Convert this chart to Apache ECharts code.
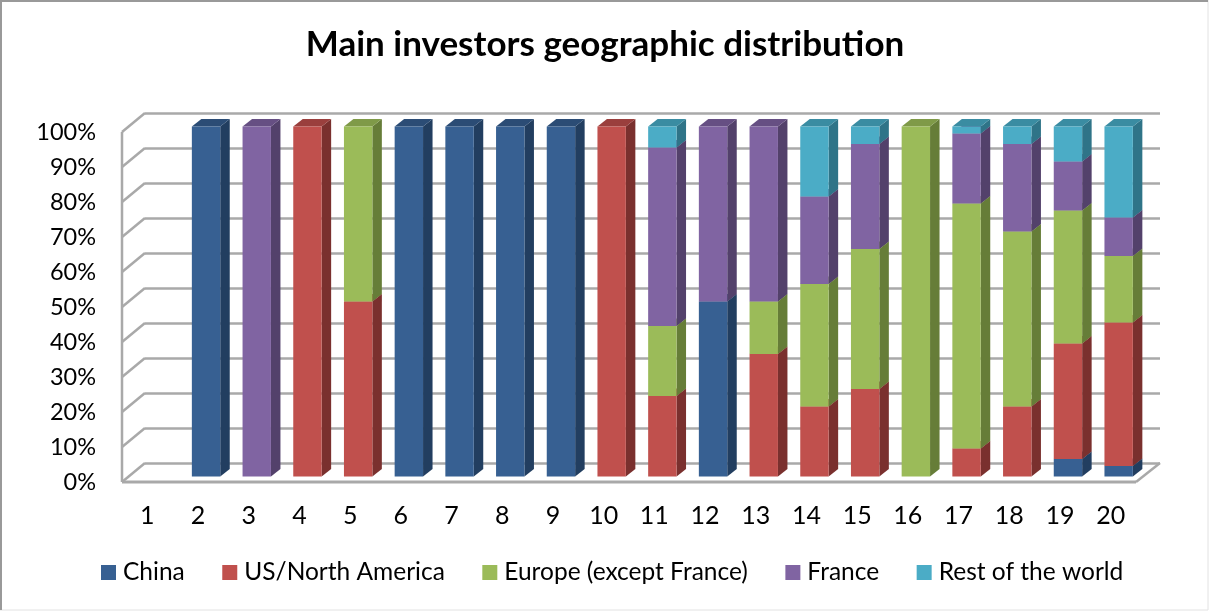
<!DOCTYPE html>
<html>
<head>
<meta charset="utf-8">
<style>html,body{margin:0;padding:0;background:#fff}#c{width:1210px;height:612px;filter:blur(0.45px)}</style>
<script src="https://cdn.jsdelivr.net/npm/echarts@6/dist/echarts.min.js"></script>
</head>
<body>
<div id="c"></div>
<script>
const categories = ['1','2','3','4','5','6','7','8','9','10','11','12','13','14','15','16','17','18','19','20'];
const china   = [0,100,0,0,0,100,100,100,100,0,0,50,0,0,0,0,0,0,5,3];
const usNA    = [0,0,0,100,50,0,0,0,0,100,23,0,35,20,25,0,8,20,33,41];
const europe  = [0,0,0,0,50,0,0,0,0,0,20,0,15,35,40,100,70,50,38,19];
const france  = [0,0,100,0,0,0,0,0,0,0,51,50,50,25,30,0,20,25,14,11];
const rest    = [0,0,0,0,0,0,0,0,0,0,6,0,0,20,5,0,2,5,10,26];
const seriesNames = ['China','US/North America','Europe (except France)','France','Rest of the world'];
const seriesValues = [china, usNA, europe, france, rest];
const front = ['#376092','#C0504D','#9BBB59','#8064A2','#4BACC6'];
const side  = ['#223E60','#7A302E','#667D38','#53416B','#2F7488'];
const topc  = ['#2B4C75','#9A3F3D','#7F9A48','#664F83','#3A8CA2'];

const chart = echarts.init(document.getElementById('c'), null, {renderer:'canvas'});
const WALL = '#A9A9A9';

function bar(si){
  return function(params, api){
    const i = api.value(0), v = api.value(1);
    if(!v) return null;
    let base = 0;
    for(let k=0;k<si;k++) base += seriesValues[k][i];
    const w = api.size([1,0])[0]*0.56;
    const c0 = api.coord([i, base]), c1 = api.coord([i, base+v]);
    const ox = 8, oy = -5.5, dx = 9.5, dy = -7.5;
    const l = c0[0]-w/2+ox, r = c0[0]+w/2+ox, b = c0[1]+oy, t = c1[1]+oy;
    return {type:'group', children:[
      {type:'polygon', shape:{points:[[r,b],[r+dx,b+dy],[r+dx,t+dy],[r,t]]}, style:{fill:side[si]}},
      {type:'polygon', shape:{points:[[l,t],[r,t],[r+dx,t+dy],[l+dx,t+dy]]}, style:{fill:topc[si]}},
      {type:'rect', shape:{x:l,y:t,width:r-l,height:b-t}, style:{fill:front[si]}}
    ]};
  };
}

const ticks = [0,10,20,30,40,50,60,70,80,90,100];
const option = {
  animation:false,
  backgroundColor:'#fff',
  textStyle:{fontFamily:'Lato'},
  title:{text:'Main investors geographic distribution', left:'center', top:22,
    textStyle:{fontFamily:'Lato',fontWeight:'bold',fontSize:35,color:'#000'}},
  legend:{
    data:seriesNames, left:96, top:555, itemWidth:15, itemHeight:15, itemGap:37.5, icon:'rect',
    textStyle:{fontFamily:'Lato',fontSize:24.5,color:'#000',padding:[0,0,0,2]}
  },
  grid:[
    {left:122, top:132, width:1014, height:350},
    {left:145, top:113, width:1015, height:350}
  ],
  xAxis:[
    {type:'category', gridIndex:0, data:categories,
      axisLine:{show:false}, axisTick:{show:false},
      axisLabel:{fontFamily:'Lato',fontSize:25,color:'#000',margin:21}},
    {type:'category', gridIndex:1, data:categories, show:false}
  ],
  yAxis:[
    {type:'value', gridIndex:0, min:0, max:100, interval:10,
      axisLine:{show:false}, axisTick:{show:false}, splitLine:{show:false},
      axisLabel:{fontFamily:'Lato',fontSize:23.5,color:'#000',margin:26,formatter:'{value}%',padding:[3,0,0,0]}},
    {type:'value', gridIndex:1, min:0, max:100, interval:10,
      axisLine:{show:false}, axisTick:{show:false}, axisLabel:{show:false},
      splitLine:{show:true,lineStyle:{color:WALL,width:2.5}}}
  ],
  series:[
    {type:'custom', name:'walls', xAxisIndex:0, yAxisIndex:0, z:1, silent:true,
      data:ticks.map(t=>[0,t]),
      renderItem(params, api){
        const cs = params.coordSys, y = api.coord([0, api.value(1)])[1];
        const kids = [{type:'line', shape:{x1:cs.x,y1:y,x2:cs.x+23,y2:y-19}, style:{stroke:WALL,lineWidth:2.5}}];
        if(api.value(1)===0){
          const R = cs.x+cs.width;
          kids.push({type:'line', shape:{x1:cs.x,y1:y,x2:R,y2:y}, style:{stroke:WALL,lineWidth:3}});
          kids.push({type:'line', shape:{x1:R,y1:y,x2:R+24,y2:y-19}, style:{stroke:WALL,lineWidth:2.5}});
          kids.push({type:'line', shape:{x1:cs.x,y1:y,x2:cs.x,y2:cs.y}, style:{stroke:WALL,lineWidth:2.5}});
        }
        return {type:'group', children:kids};
      }},
    ...seriesNames.map((n,si)=>({
      type:'custom', name:n, xAxisIndex:0, yAxisIndex:0, z:2+si,
      itemStyle:{color:front[si]},
      encode:{x:0,y:1},
      data:seriesValues[si].map((v,i)=>[i,v]),
      renderItem:bar(si)
    }))
  ],
  graphic:[
    {type:'rect', z:-1, silent:true, shape:{x:0,y:0,width:1208,height:610},
      style:{fill:'none',stroke:'#E2E2E2',lineWidth:1}},
    {type:'polyline', z:-1, silent:true, shape:{points:[[1,610],[1,1],[1208,1]]},
      style:{fill:'none',stroke:'#999999',lineWidth:2}}
  ]
};
chart.setOption(option);
</script>
</body>
</html>
